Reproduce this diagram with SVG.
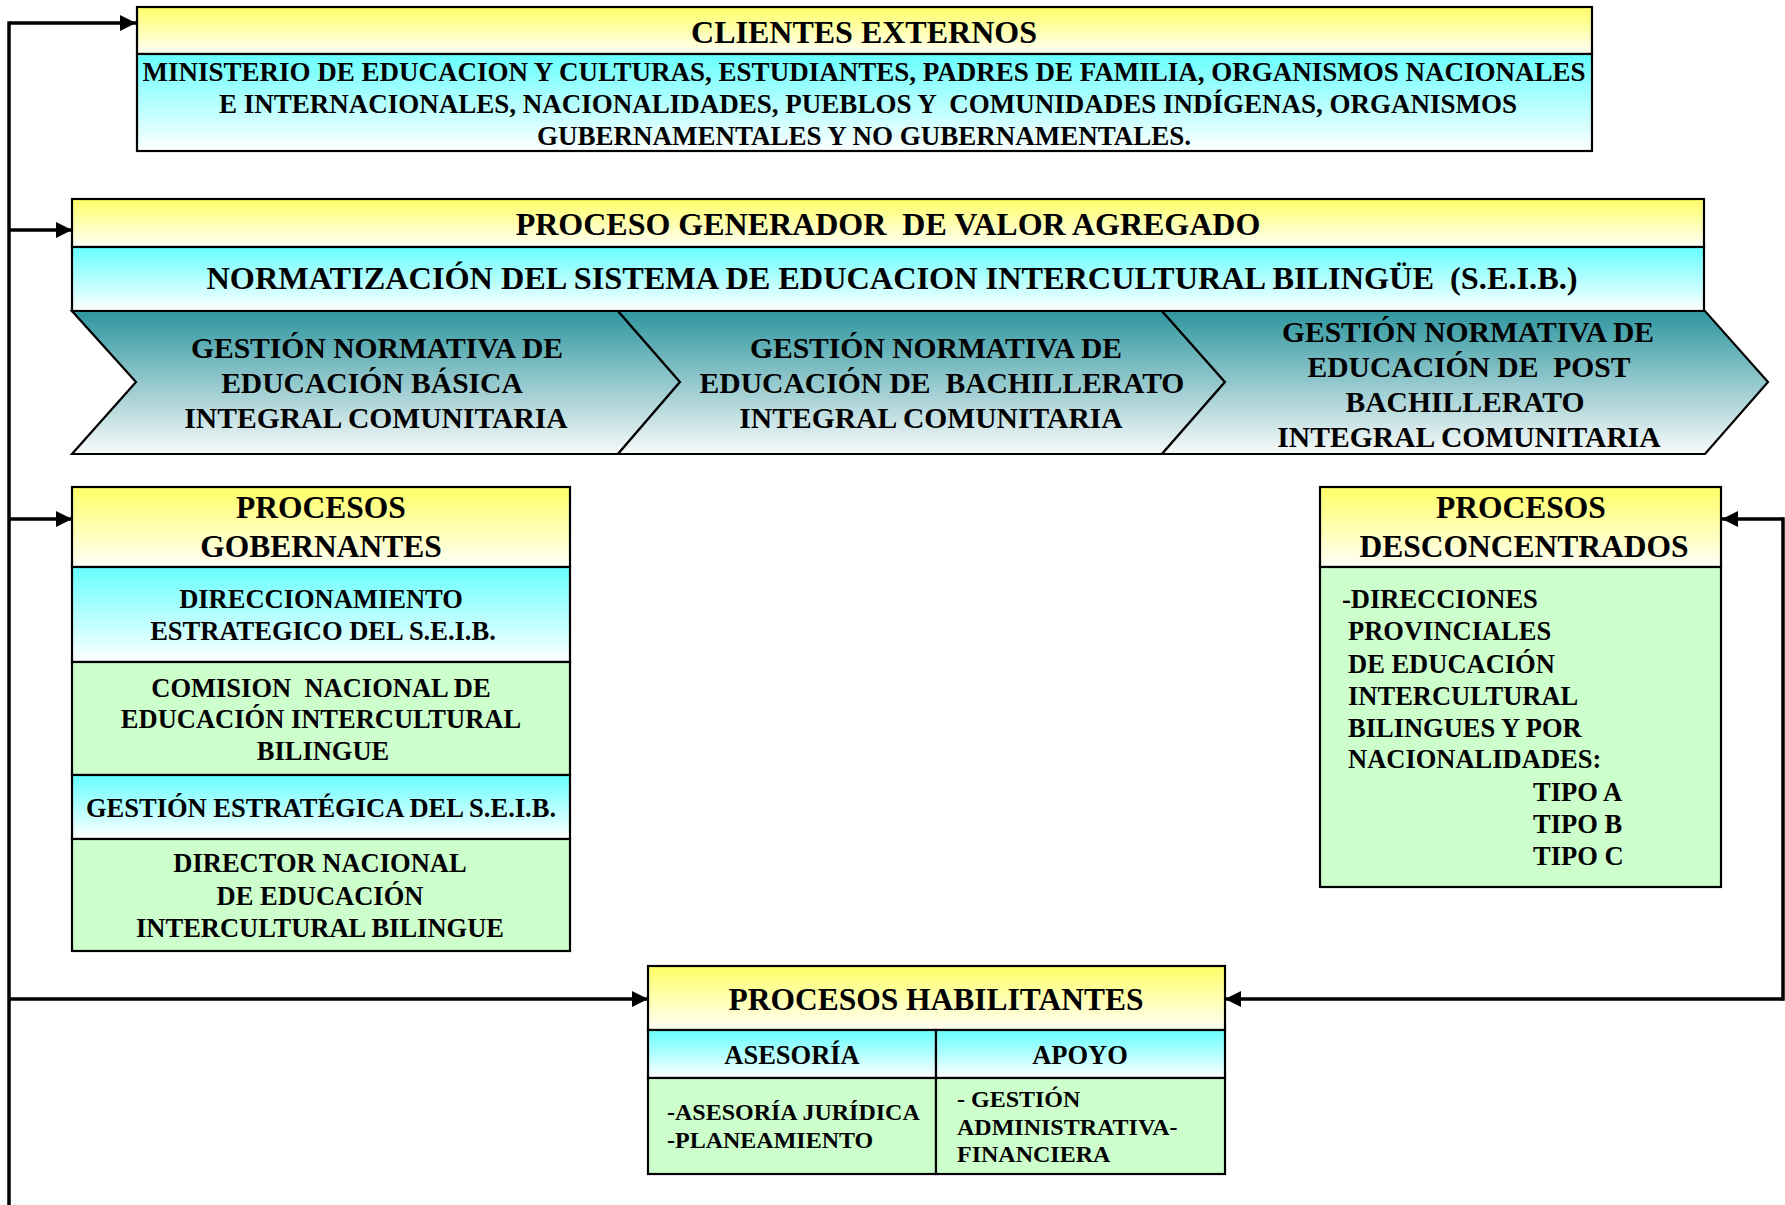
<svg xmlns="http://www.w3.org/2000/svg" width="1785" height="1205" viewBox="0 0 1785 1205">
<defs>
<linearGradient id="gY" x1="0" y1="0" x2="0" y2="1"><stop offset="0" stop-color="#FFFF66"/><stop offset="1" stop-color="#FFFFF8"/></linearGradient>
<linearGradient id="gC" x1="0" y1="0" x2="0" y2="1"><stop offset="0" stop-color="#66FFFF"/><stop offset="1" stop-color="#FFFFFF"/></linearGradient>
<linearGradient id="gT" gradientUnits="userSpaceOnUse" x1="0" y1="311" x2="0" y2="454"><stop offset="0" stop-color="#2E969F"/><stop offset="1" stop-color="#F8FAFA"/></linearGradient>
<marker id="ah" markerUnits="userSpaceOnUse" markerWidth="17" markerHeight="17" refX="16" refY="8" orient="auto"><path d="M0,0 L16,8 L0,16 z" fill="#000"/></marker>
<style>
.t{font-family:"Liberation Serif","Times New Roman",serif;font-weight:bold;fill:#000}
.c{text-anchor:middle}
.h{font-size:31.5px}
.b{font-size:26.5px}
.s{font-size:24px}
.k{stroke:#000;stroke-width:2.2}
.g{fill:#CCFFCC}
.ln{fill:none;stroke:#000;stroke-width:3.5}
</style>
</defs>
<rect width="1785" height="1205" fill="#FFFFFF"/>

<g id="connectors">
<path class="ln" d="M9,21.5 V1205"/>
<path class="ln" d="M9,23 H136" marker-end="url(#ah)"/>
<path class="ln" d="M9,230 H72" marker-end="url(#ah)"/>
<path class="ln" d="M9,519 H72" marker-end="url(#ah)"/>
<path class="ln" d="M9,999 H648" marker-end="url(#ah)"/>
<path class="ln" d="M1783,517.3 V1000.7"/>
<path class="ln" d="M1783,519 H1722" marker-end="url(#ah)"/>
<path class="ln" d="M1783,999 H1225" marker-end="url(#ah)"/>
</g>

<g id="clientes-externos">
<rect class="k" x="137" y="7" width="1455" height="47" fill="url(#gY)"/>
<rect class="k" x="137" y="54" width="1455" height="97" fill="url(#gC)"/>
<text class="t c" x="864" y="43" style="font-size:32px">CLIENTES EXTERNOS</text>
<g class="t c" style="font-size:27px">
<text x="864" y="81">MINISTERIO DE EDUCACION Y CULTURAS, ESTUDIANTES, PADRES DE FAMILIA, ORGANISMOS NACIONALES</text>
<text x="868" y="113" xml:space="preserve">E INTERNACIONALES, NACIONALIDADES, PUEBLOS Y  COMUNIDADES INDÍGENAS, ORGANISMOS</text>
<text x="864" y="145">GUBERNAMENTALES Y NO GUBERNAMENTALES.</text>
</g>
</g>

<g id="proceso-generador">
<rect class="k" x="72" y="199" width="1632" height="48" fill="url(#gY)"/>
<rect class="k" x="72" y="247" width="1632" height="64" fill="url(#gC)"/>
<text class="t c" x="888" y="235" style="font-size:32px" xml:space="preserve">PROCESO GENERADOR  DE VALOR AGREGADO</text>
<text class="t c" x="892" y="289" style="font-size:32.3px" xml:space="preserve">NORMATIZACIÓN DEL SISTEMA DE EDUCACION INTERCULTURAL BILINGÜE  (S.E.I.B.)</text>
</g>

<g id="gestion-basica">
<path class="k" d="M72,311 H618 L680,382 L618,454 H72 L136,382 Z" fill="url(#gT)"/>
<g class="t c" style="font-size:29.6px">
<text x="377" y="358">GESTIÓN NORMATIVA DE</text>
<text x="372" y="393">EDUCACIÓN BÁSICA</text>
<text x="376" y="428">INTEGRAL COMUNITARIA</text>
</g>
</g>

<g id="gestion-bachillerato">
<path class="k" d="M618,311 H1162 L1225,382 L1162,454 H618 L680,382 Z" fill="url(#gT)"/>
<g class="t c" style="font-size:29.6px">
<text x="936" y="358">GESTIÓN NORMATIVA DE</text>
<text x="942" y="393" xml:space="preserve">EDUCACIÓN DE  BACHILLERATO</text>
<text x="931" y="428">INTEGRAL COMUNITARIA</text>
</g>
</g>

<g id="gestion-post-bachillerato">
<path class="k" d="M1162,311 H1705 L1768,382 L1705,454 H1162 L1225,382 Z" fill="url(#gT)"/>
<g class="t c" style="font-size:29.6px">
<text x="1468" y="342">GESTIÓN NORMATIVA DE</text>
<text x="1469" y="377" xml:space="preserve">EDUCACIÓN DE  POST</text>
<text x="1465" y="412">BACHILLERATO</text>
<text x="1469" y="447">INTEGRAL COMUNITARIA</text>
</g>
</g>

<g id="procesos-gobernantes">
<rect class="k" x="72" y="487" width="498" height="80" fill="url(#gY)"/>
<rect class="k" x="72" y="567" width="498" height="95" fill="url(#gC)"/>
<rect class="k g" x="72" y="662" width="498" height="113"/>
<rect class="k" x="72" y="775" width="498" height="64" fill="url(#gC)"/>
<rect class="k g" x="72" y="839" width="498" height="112"/>
<text class="t c h" x="321" y="518">PROCESOS</text>
<text class="t c h" x="321" y="557">GOBERNANTES</text>
<text class="t c b" x="321" y="608">DIRECCIONAMIENTO</text>
<text class="t c b" x="323" y="640">ESTRATEGICO DEL S.E.I.B.</text>
<text class="t c b" x="321" y="697" xml:space="preserve">COMISION  NACIONAL DE</text>
<text class="t c b" x="321" y="728">EDUCACIÓN INTERCULTURAL</text>
<text class="t c b" x="323" y="760">BILINGUE</text>
<text class="t c b" x="321" y="817">GESTIÓN ESTRATÉGICA DEL S.E.I.B.</text>
<text class="t c b" x="320" y="872">DIRECTOR NACIONAL</text>
<text class="t c b" x="320" y="905">DE EDUCACIÓN</text>
<text class="t c b" x="320" y="937">INTERCULTURAL BILINGUE</text>
</g>

<g id="procesos-desconcentrados">
<rect class="k" x="1320" y="487" width="401" height="80" fill="url(#gY)"/>
<rect class="k g" x="1320" y="567" width="401" height="320"/>
<text class="t c h" x="1521" y="518">PROCESOS</text>
<text class="t c h" x="1524" y="557">DESCONCENTRADOS</text>
<g class="t b">
<text x="1342" y="608">-DIRECCIONES</text>
<text x="1348" y="640">PROVINCIALES</text>
<text x="1348" y="673">DE EDUCACIÓN</text>
<text x="1348" y="705">INTERCULTURAL</text>
<text x="1348" y="737">BILINGUES Y POR</text>
<text x="1348" y="768">NACIONALIDADES:</text>
<text x="1533" y="801">TIPO A</text>
<text x="1533" y="833">TIPO B</text>
<text x="1533" y="865">TIPO C</text>
</g>
</g>

<g id="procesos-habilitantes">
<rect class="k" x="648" y="966" width="577" height="64" fill="url(#gY)"/>
<rect class="k" x="648" y="1030" width="288" height="48" fill="url(#gC)"/>
<rect class="k" x="936" y="1030" width="289" height="48" fill="url(#gC)"/>
<rect class="k g" x="648" y="1078" width="288" height="96"/>
<rect class="k g" x="936" y="1078" width="289" height="96"/>
<text class="t c h" x="936" y="1010">PROCESOS HABILITANTES</text>
<text class="t c b" x="792" y="1064">ASESORÍA</text>
<text class="t c b" x="1080" y="1064">APOYO</text>
<text class="t s" x="667" y="1120">-ASESORÍA JURÍDICA</text>
<text class="t s" x="667" y="1148">-PLANEAMIENTO</text>
<text class="t s" x="957" y="1107">- GESTIÓN</text>
<text class="t s" x="957" y="1135">ADMINISTRATIVA-</text>
<text class="t s" x="957" y="1162">FINANCIERA</text>
</g>
</svg>
